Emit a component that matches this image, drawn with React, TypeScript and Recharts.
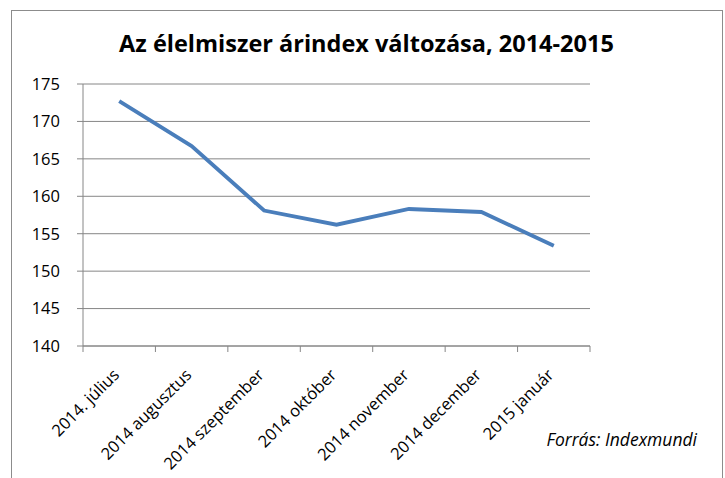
import { CartesianGrid, Line, LineChart, XAxis, YAxis } from "recharts";

const months = [
  "2014. július",
  "2014 augusztus",
  "2014 szeptember",
  "2014 október",
  "2014 november",
  "2014 december",
  "2015 január",
];
const foodIndex = [172.7, 166.7, 158.1, 156.2, 158.3, 157.9, 153.4];
const yTicks = [140, 145, 150, 155, 160, 165, 170, 175];

const FONT = '"Open Sans", sans-serif';
const GRID = "#868686";

const data = months.map((m, i) => ({ month: m, value: foodIndex[i] }));

// category label + Excel-style tick marks between the categories
function MonthTick({ x, y, payload, index }: any) {
  const half = payload.offset ?? 36;
  const axisY = y - 8;
  return (
    <g>
      <line x1={x - half} y1={axisY} x2={x - half} y2={axisY + 6} stroke={GRID} />
      {index === months.length - 1 && (
        <line x1={x + half} y1={axisY} x2={x + half} y2={axisY + 6} stroke={GRID} />
      )}
      <text
        x={x + 1}
        y={y + 22}
        transform={`rotate(-45, ${x + 1}, ${y + 22})`}
        textAnchor="end"
        fontSize={16.5}
        fontFamily={FONT}
        fill="#000"
      >
        {payload.value}
      </text>
    </g>
  );
}

export default function App() {
  return (
    <div style={{ position: "absolute", left: 0, top: 0, width: 725, height: 478, background: "#fff" }}>
      <div
        style={{
          position: "absolute",
          left: 11,
          top: 10,
          width: 710,
          height: 480,
          border: "1.5px solid #8c8c8c",
        }}
      />
      <div
        style={{
          position: "absolute",
          left: 11,
          width: 711,
          top: 27,
          textAlign: "center",
          fontFamily: FONT,
          fontWeight: "bold",
          fontSize: 23.5,
        }}
      >
        Az élelmiszer árindex változása, 2014-2015
      </div>
      <div
        style={{
          position: "absolute",
          right: 28,
          top: 427,
          fontFamily: FONT,
          fontStyle: "italic",
          fontSize: 17.5,
        }}
      >
        Forrás: Indexmundi
      </div>
      <LineChart
        width={725}
        height={478}
        data={data}
        margin={{ top: 84, right: 135, left: 23, bottom: 32 }}
        style={{ position: "absolute", left: 0, top: 0 }}
      >
        <CartesianGrid stroke={GRID} vertical={false} />
        <XAxis
          dataKey="month"
          scale="band"
          interval={0}
          stroke={GRID}
          tickLine={false}
          tick={<MonthTick />}
          height={100}
        />
        <YAxis
          domain={[140, 175]}
          ticks={yTicks}
          interval={0}
          width={60}
          stroke={GRID}
          tickSize={6}
          tickMargin={17}
          tick={{ fill: "#000", fontSize: 16.5, fontFamily: FONT }}
        />
        <Line
          dataKey="value"
          stroke="#4a7ebb"
          strokeWidth={3.8}
          dot={false}
          isAnimationActive={false}
        />
      </LineChart>
    </div>
  );
}
